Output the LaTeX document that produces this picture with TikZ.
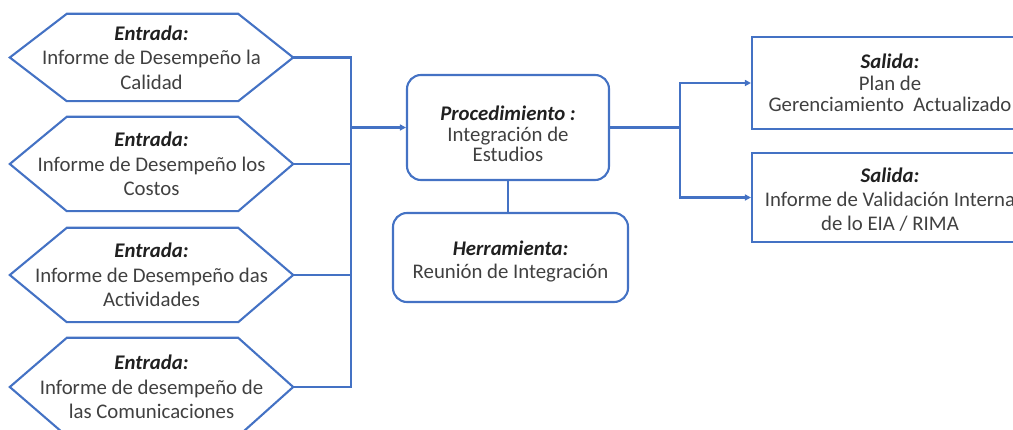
\documentclass[tikz,border=0pt]{standalone}
\usepackage{fontspec}
\setmainfont{Carlito}
\usetikzlibrary{arrows.meta}
\definecolor{bl}{HTML}{4472C4}
\definecolor{tx}{HTML}{404040}
\definecolor{hd}{HTML}{202020}
\newcommand\hd[1]{{\color{hd}\bfseries\itshape #1}}
\newcommand\hexframe[1]{\draw[conn] ([xshift=57]#1.north west) -- ([xshift=-55]#1.north east) -- (#1.east) -- ([xshift=-55]#1.south east) -- ([xshift=57]#1.south west) -- (#1.west) -- cycle;}
\tikzset{
  conn/.style={draw=bl, line width=2.1pt},
  arr/.style={conn, -{Triangle[length=6pt,width=6pt]}},
  lbl/.style={font=\fontsize{20.8}{#1}\selectfont, text=tx, align=center, inner sep=0},
  lbl/.default=24.5,
  hexbox/.style={lbl, minimum width=283, minimum height=#1},
  rbox/.style={draw=bl, line width=2.1pt, rounded corners=14, inner sep=0},
  sbox/.style={draw=bl, line width=2.1pt, inner sep=0},
}
\begin{document}
\begin{tikzpicture}[x=1pt,y=-1pt]
\useasboundingbox (0,0) rectangle (1013,430);
\clip (0,0) rectangle (1013,430);
% inputs
\node[hexbox=87] (h1) at (151.5,57.5) {\hd{Entrada:}\\Informe de Desempeño la\\Calidad};
\node[hexbox=94] (h2) at (151.5,164) {\hd{Entrada:}\\Informe de Desempeño los\\Costos};
\node[hexbox=94] (h3) at (151.5,275) {\hd{Entrada:}\\Informe de Desempeño das\\Actividades};
\node[hexbox=98] (h4) at (151.5,387) {\hd{Entrada:}\\Informe de desempeño de\\las Comunicaciones};
\hexframe{h1}\hexframe{h2}\hexframe{h3}\hexframe{h4}
% procedure and tool
\node[rbox, minimum width=202, minimum height=105] (proc) at (508,127.5) {};
\node[lbl=20.5] (proct) at (508,134) {\hd{Procedimiento :}\\Integración de\\Estudios};
\node[rbox, minimum width=235, minimum height=89] (herr) at (510.5,257.5) {};
\node[lbl=23] (herrt) at (510.5,261) {\hd{Herramienta:}\\Reunión de Integración};
% outputs
\node[sbox, minimum width=276, minimum height=92] (s1) at (890,83) {};
\node[lbl=21.5] (s1t) at (890,83) {\hd{Salida:}\\Plan de\\Gerenciamiento~~Actualizado};
\node[sbox, minimum width=276, minimum height=89] (s2) at (890,197.5) {};
\node[lbl=24] (s2t) at (890,200) {\hd{Salida:}\\Informe de Validación Interna\\de lo EIA / RIMA};
% connectors
\coordinate (bus) at (351,127.5);
\coordinate (fork) at (680,127.5);
\draw[conn] (h1.east) -| (bus);
\draw[conn] (h4.east) -| (bus);
\draw[conn] (h2.east) -- (h2.east -| bus);
\draw[conn] (h3.east) -- (h3.east -| bus);
\draw[arr] (bus) -- (proc.west);
\draw[conn] (proc.south) -- (proc.south |- herr.north);
\draw[conn] (proc.east) -- (fork);
\draw[arr] (fork) |- (s1.west);
\draw[arr] (fork) |- (s2.west);
\end{tikzpicture}
\end{document}
